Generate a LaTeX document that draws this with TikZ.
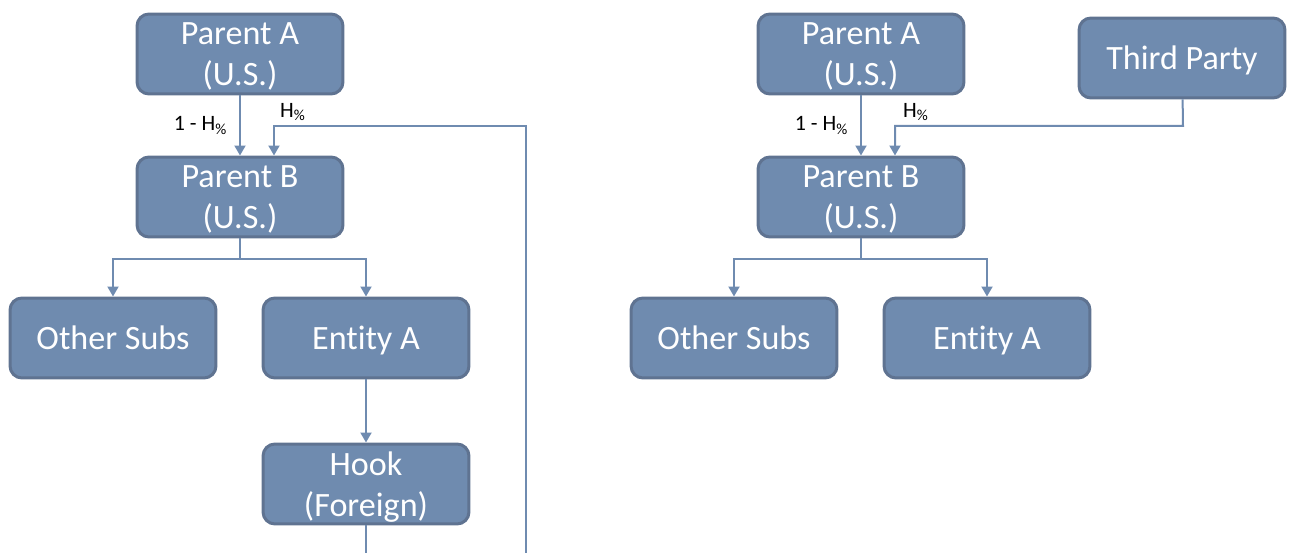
\documentclass[tikz,border=0pt]{standalone}
\usepackage{fontspec}
\setmainfont{Carlito}[Ligatures=CommonOff]
\usetikzlibrary{arrows.meta}
\definecolor{boxfill}{RGB}{111,139,175}
\definecolor{boxline}{RGB}{95,115,145}
\definecolor{wire}{RGB}{111,139,176}
\begin{document}
\begin{tikzpicture}[x=0.02cm, y=-0.02cm,
    entity/.style={shape=rectangle, rounded corners=0.24cm, draw=boxline, fill=boxfill,
        line width=0.06cm, minimum width=4.12cm, minimum height=1.6cm, align=center,
        text=white, text depth=0pt, font=\fontsize{19.4}{23.3}\selectfont},
    link/.style={draw=wire, line width=0.04cm, -{Triangle[width=0.22cm,length=0.2cm]}},
    share/.style={font=\fontsize{12.5}{14}\selectfont, text=black}]

    \useasboundingbox (0,0) rectangle (1289,553);

    % left structure
    \node[entity] (paL) at (240, 54)  {Parent A\\(U.S.)};
    \node[entity] (pbL) at (240, 197) {Parent B\\(U.S.)};
    \node[entity] (osL) at (113, 338) {Other Subs};
    \node[entity] (eaL) at (366, 338) {Entity A};
    \node[entity] (hkL) at (366, 484) {Hook\\(Foreign)};

    \coordinate (splitL) at (240, 259);
    \coordinate (hookEndL) at (366, 553);
    \coordinate (loopL) at (526, 553);
    \coordinate (bendL) at (526, 126);

    \draw[link] (paL) -- node[share, left=0.12cm] (omL) {1 - H\textsubscript{\%}} (pbL);
    \draw[link] (loopL) -- (bendL) -| ([xshift=0.68cm]pbL.north);
    \node[share] (hL) at (293, 112) {H\textsubscript{\%}};
    \draw[link, -] (pbL) -- (splitL);
    \draw[link] (splitL) -| (osL);
    \draw[link] (splitL) -| (eaL);
    \draw[link] (eaL) -- (hkL);
    \draw[link, -] (hkL) -- (hookEndL);

    % right structure
    \node[entity] (paR) at (861, 54)   {Parent A\\(U.S.)};
    \node[entity] (tpR) at (1182, 58)  {Third Party};
    \node[entity] (pbR) at (861, 197)  {Parent B\\(U.S.)};
    \node[entity] (osR) at (734, 338)  {Other Subs};
    \node[entity] (eaR) at (987, 338)  {Entity A};

    \coordinate (splitR) at (861, 259);
    \coordinate (bendR) at (1183, 126);

    \draw[link] (paR) -- node[share, left=0.12cm] (omR) {1 - H\textsubscript{\%}} (pbR);
    \draw[link] (tpR) -- (bendR) -| ([xshift=0.68cm]pbR.north);
    \node[share] (hR) at (916, 112) {H\textsubscript{\%}};
    \draw[link, -] (pbR) -- (splitR);
    \draw[link] (splitR) -| (osR);
    \draw[link] (splitR) -| (eaR);

\end{tikzpicture}
\end{document}
